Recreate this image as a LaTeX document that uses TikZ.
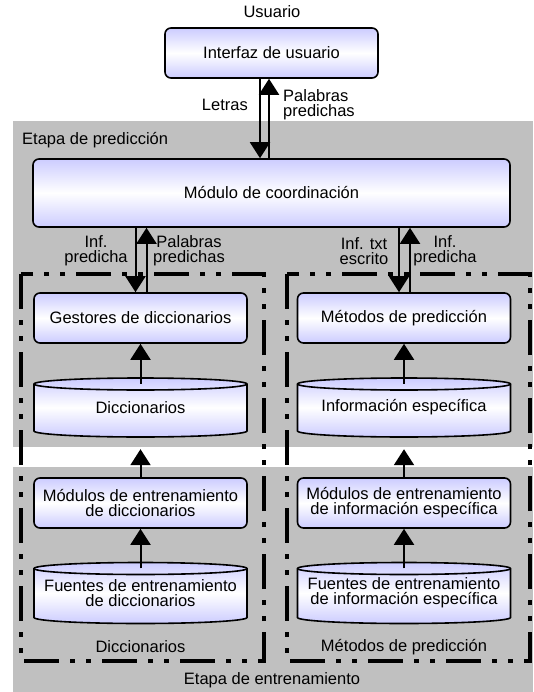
\documentclass[tikz,border=0pt]{standalone}
\usepackage{fontspec}
\setmainfont{Liberation Sans}
\usepackage{tikz}
\usetikzlibrary{arrows.meta}
\definecolor{stage}{RGB}{192,192,192}
\definecolor{lav}{RGB}{204,204,255}
\newcommand{\drum}[5]{%
  \draw[drumline, top color=lav, bottom color=lav, middle color=white]
    (#2-106.5,#3-#4/2+6) -- (#2-106.5,#3+#4/2-6)
    arc[start angle=180, end angle=360, x radius=106.5pt, y radius=6pt]
    -- (#2+106.5,#3-#4/2+6)
    arc[start angle=0, end angle=180, x radius=106.5pt, y radius=6pt] -- cycle;
  \draw[drumline] (#2-106.5,#3-#4/2+6)
    arc[start angle=180, end angle=360, x radius=106.5pt, y radius=6pt];
  \node[drumtext, minimum height=#4pt] (#1) at (#2,#3) {#5};
}

\begin{document}
\begin{tikzpicture}[x=1pt, y=-1pt, font=\fontsize{16.5pt}{15pt}\selectfont,
    box/.style={draw, line width=1.6pt, rounded corners=6pt, top color=lav, bottom color=lav, middle color=white, align=center, inner sep=0pt},
    drumline/.style={line width=1.6pt},
    drumtext/.style={minimum width=213pt, align=center, inner sep=0pt},
    lbl/.style={align=center, inner sep=0pt},
    arr/.style={-{Triangle[width=20pt,length=16pt]}, line width=2pt},
    trainbox/.style={line width=4pt, dash pattern=on 35pt off 11pt on 5pt off 11pt on 5pt off 11pt}]
\useasboundingbox (0,0) rectangle (533,692);
\fill[stage] (13,121) rectangle (533,447);
\fill[stage] (13,467) rectangle (533,692);
\draw[trainbox] (21,274) rectangle (264,661);
\draw[trainbox] (287,274) rectangle (530,661);

\node[lbl] (usr) at (272,12) {Usuario};
\node[box, minimum width=213pt, minimum height=50pt] (ui) at (271.5,53) {Interfaz de usuario};
\node[lbl, anchor=west] (pred) at (22,140) {Etapa de predicción};
\node[box, minimum width=477pt, minimum height=68pt] (coord) at (271.5,193) {Módulo de coordinación};
\draw[arr] ([xshift=-11.5pt]ui.south) -- ([xshift=-11.5pt]coord.north);
\draw[arr] ([xshift=-2.5pt]coord.north) -- ([xshift=-2.5pt]ui.south);
\node[lbl, anchor=east] (letras) at (248,105) {Letras};
\node[lbl, anchor=west, align=left] (palabras) at (283,105) {Palabras\\predichas};

\foreach \s/\x/\g/\d/\m/\f/\t in {
    l/140.5/{Gestores de diccionarios}/{Diccionarios}/{Módulos de entrenamiento\\de diccionarios}/{Fuentes de entrenamiento\\de diccionarios}/{Diccionarios},
    r/404/{Métodos de predicción}/{Información específica}/{Módulos de entrenamiento\\de información específica}/{Fuentes de entrenamiento\\de información específica}/{Métodos de predicción}} {
    \node[box, minimum width=213pt, minimum height=50pt] (gest\s) at (\x,318) {\g};
    \drum{dic\s}{\x}{407.5}{59}{\d}
    \node[box, minimum width=213pt, minimum height=50pt] (train\s) at (\x,503) {\m};
    \drum{src\s}{\x}{593}{61}{\f}
    \node[lbl] (col\s) at (\x,647) {\t};
    \draw[arr] ([xshift=-5pt]gest\s.north |- coord.south) -- ([xshift=-5pt]gest\s.north);
    \draw[arr] ([xshift=6pt]gest\s.north) -- ([xshift=6pt]gest\s.north |- coord.south);
    \draw[arr] ([yshift=-6pt]dic\s.north) -- (gest\s);
    \draw[arr] (train\s) -- ([yshift=-12pt]dic\s.south);
    \draw[arr] ([yshift=-6pt]src\s.north) -- (train\s);
}

\node[lbl] (infl) at (96,251) {Inf.\\predicha};
\node[lbl] (pall) at (189,251) {Palabras\\predichas};
\node[lbl] (inftxt) at (364,251) {Inf. txt\\escrito};
\node[lbl] (infr) at (445,251) {Inf.\\predicha};
\node[lbl] (train) at (272,680) {Etapa de entrenamiento};
\end{tikzpicture}
\end{document}
